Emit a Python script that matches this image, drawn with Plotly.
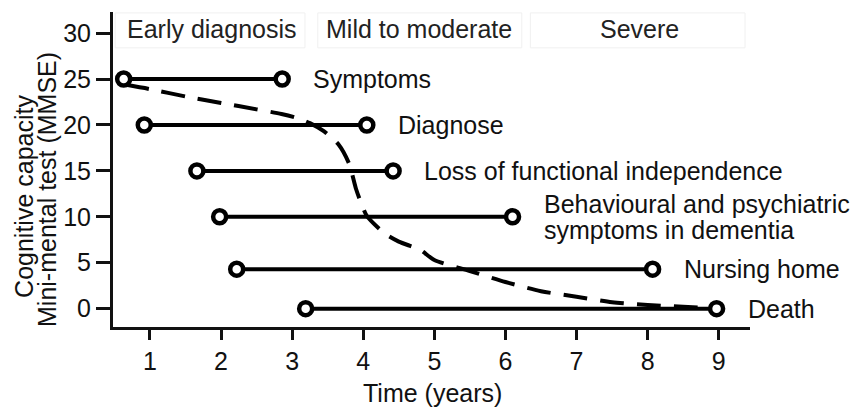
import plotly.graph_objects as go

# ---- data ----
events = ["Symptoms", "Diagnose", "Loss of functional independence",
          "Behavioural and psychiatric<br>symptoms in dementia", "Nursing home", "Death"]
event_start = [0.63, 0.92, 1.66, 1.98, 2.22, 3.19]
event_end = [2.86, 4.05, 4.42, 6.10, 8.07, 8.97]
event_mmse = [25, 20, 15, 10, 4.3, 0]

curve_years = [0.65, 1.0, 1.5, 2.0, 2.5, 2.85, 3.05, 3.25, 3.45, 3.65, 3.8, 3.9, 3.97,
               4.05, 4.3, 4.5, 4.8, 5.0, 5.5, 6.0, 6.5, 7.0, 7.5, 8.0, 8.5, 9.0]
curve_mmse = [24.4, 23.9, 23.1, 22.4, 21.7, 21.2, 20.8, 20.2, 19.3, 17.9, 15.8, 13.0, 11.5,
              10.1, 8.2, 7.3, 6.4, 5.3, 4.1, 2.9, 1.9, 1.3, 0.7, 0.4, 0.2, 0.0]

phases = ["Early diagnosis", "Mild to moderate", "Severe"]
phase_start = [0.51, 3.36, 6.35]
phase_end = [3.18, 6.23, 9.37]
phase_label_x = [1.87, 4.78, 7.88]

x_ticks = [1, 2, 3, 4, 5, 6, 7, 8, 9]
y_ticks = [0, 5, 10, 15, 20, 25, 30]

FONT = "Liberation Sans, Arial, sans-serif"
FS = 25

fig = go.Figure()

fig.add_trace(go.Scatter(
    x=curve_years, y=curve_mmse, mode="lines",
    line=dict(color="black", width=4, dash="24px,13px", shape="spline", smoothing=0.7),
    hoverinfo="skip", showlegend=False))

for name, x0, x1, yv in zip(events, event_start, event_end, event_mmse):
    fig.add_trace(go.Scatter(
        x=[x0, x1], y=[yv, yv], mode="lines+markers",
        line=dict(color="black", width=4),
        marker=dict(symbol="circle", size=13, color="white",
                    line=dict(color="black", width=4.5)),
        name=name.replace("<br>", " "), showlegend=False))
    lines = name.split("<br>")
    n = len(lines)
    for i, ln in enumerate(lines):
        fig.add_annotation(
            x=x1, y=yv, xref="x", yref="y", text=ln, showarrow=False,
            xanchor="left", yanchor="middle", xshift=29,
            yshift=(n - 1) * 13 - i * 26,
            font=dict(family=FONT, size=FS, color="#111"))

for p, x0, x1, xl in zip(phases, phase_start, phase_end, phase_label_x):
    fig.add_shape(type="rect", x0=x0, x1=x1, y0=28.4, y1=32.2, xref="x", yref="y",
                  line=dict(color="#f0f0f0", width=1), fillcolor="rgba(0,0,0,0)", layer="below")
    fig.add_annotation(x=xl, y=30.4, xref="x", yref="y", text=p, showarrow=False,
                       xanchor="center", yanchor="middle",
                       font=dict(family=FONT, size=FS, color="#222"))

# axis titles
fig.add_annotation(x=0, y=0.413, xref="paper", yref="paper", text="Cognitive capacity",
                   textangle=-90, showarrow=False, xanchor="center", yanchor="middle",
                   xshift=-89, font=dict(family=FONT, size=FS, color="#111"))
fig.add_annotation(x=0, y=0.435, xref="paper", yref="paper", text="Mini-mental test (MMSE)",
                   textangle=-90, showarrow=False, xanchor="center", yanchor="middle",
                   xshift=-66, font=dict(family=FONT, size=FS, color="#111"))
fig.add_annotation(x=0.502, y=0, xref="paper", yref="paper", text="Time (years)",
                   showarrow=False, xanchor="center", yanchor="middle", yshift=-66,
                   font=dict(family=FONT, size=FS, color="#111"))

# page body has an 8px margin, so the figure is drawn 8px smaller and shifted
fig.update_layout(
    width=855, height=403,
    margin=dict(l=105, r=113, t=4, b=84),
    paper_bgcolor="white", plot_bgcolor="white",
    font=dict(family=FONT, size=FS, color="#111"),
    xaxis=dict(range=[0.48, 9.44], tickvals=x_ticks, showgrid=False, zeroline=False,
               showline=True, linecolor="#111", linewidth=3, ticks="outside",
               ticklen=10, tickwidth=2.5, tickcolor="#111"),
    yaxis=dict(range=[-2, 32.3], tickvals=y_ticks, showgrid=False, zeroline=False,
               showline=True, linecolor="#111", linewidth=3, ticks="outside",
               ticklen=14, tickwidth=2.5, tickcolor="#111"),
)

fig.write_html("out.html")
